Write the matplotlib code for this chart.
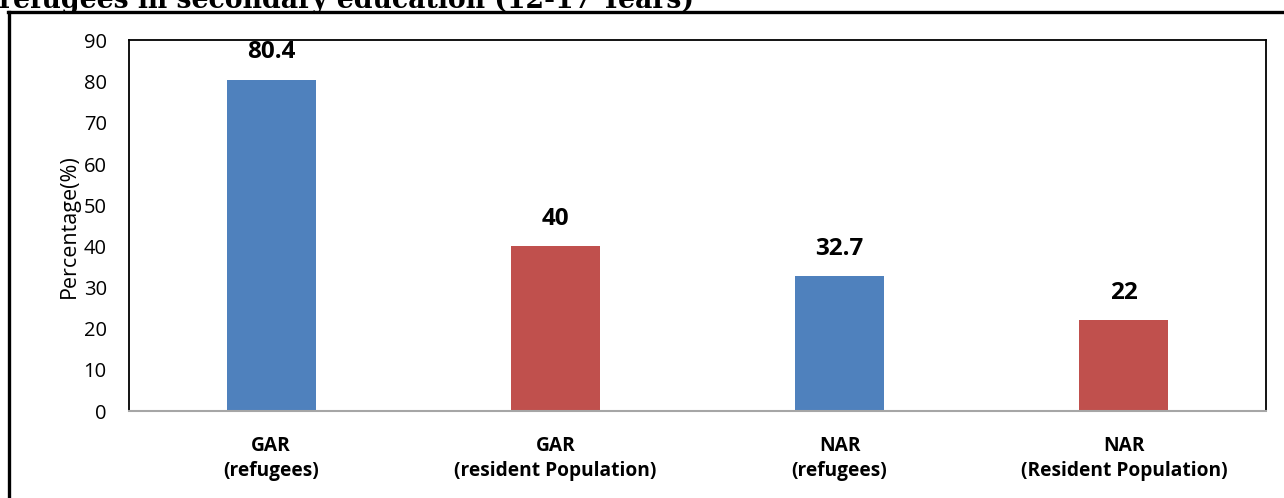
import matplotlib
matplotlib.use('Agg')
import matplotlib.pyplot as plt
from matplotlib.lines import Line2D

# data
categories = ['GAR\n(refugees)', 'GAR\n(resident Population)',
              'NAR\n(refugees)', 'NAR\n(Resident Population)']
values = [80.4, 40, 32.7, 22]
labels = ['80.4', '40', '32.7', '22']
colors = ['#4F81BD', '#C0504D', '#4F81BD', '#C0504D']
yticks = [0, 10, 20, 30, 40, 50, 60, 70, 80, 90]

plt.rcParams['font.family'] = ['Open Sans', 'DejaVu Sans']

W, H = 1284, 498
fig = plt.figure(figsize=(W / 100, H / 100), dpi=100)
ax = fig.add_axes([129 / W, 1 - 411 / H, (1266 - 129) / W, (411 - 40.5) / H])

x = range(len(values))
ax.bar(x, values, width=0.313, color=colors, zorder=2)
for i, v in enumerate(values):
    ax.text(i, v + 6.7, labels[i], ha='center', va='center',
            fontsize=17.5, fontweight='bold')

ax.set_xlim(-0.5, 3.5)
ax.set_ylim(0, 90)
ax.set_yticks(yticks)
ax.set_yticklabels([str(t) for t in yticks], fontsize=14.5)
ax.set_xticks(list(x))
ax.set_xticklabels(categories, fontsize=13.8, fontweight='bold', linespacing=1.3)
ax.tick_params(axis='y', length=0, pad=16)
ax.tick_params(axis='x', length=0, pad=18)
ax.set_ylabel('Percentage(%)', fontsize=15.5, labelpad=3)

for s in ['top', 'right', 'left']:
    ax.spines[s].set_color('black')
    ax.spines[s].set_linewidth(1.3)
ax.spines['bottom'].set_color('#a6a6a6')
ax.spines['bottom'].set_linewidth(1.5)

# outer frame of the chart (partially cut off)
fig.add_artist(Line2D([8.5 / W, 8.5 / W], [0, 1 - 12.5 / H], color='black',
                      linewidth=2.4, transform=fig.transFigure))
fig.add_artist(Line2D([7.5 / W, 1], [1 - 12.5 / H, 1 - 12.5 / H], color='black',
                      linewidth=2.4, transform=fig.transFigure))

# title, clipped at top of the image
fig.text(-0.001, 1 - 7.5 / H, 'refugees in secondary education (12-17 Years)',
         fontsize=19.2, fontweight='bold', family=['DejaVu Serif'],
         ha='left', va='baseline')

fig.savefig('out.png', dpi=100)
